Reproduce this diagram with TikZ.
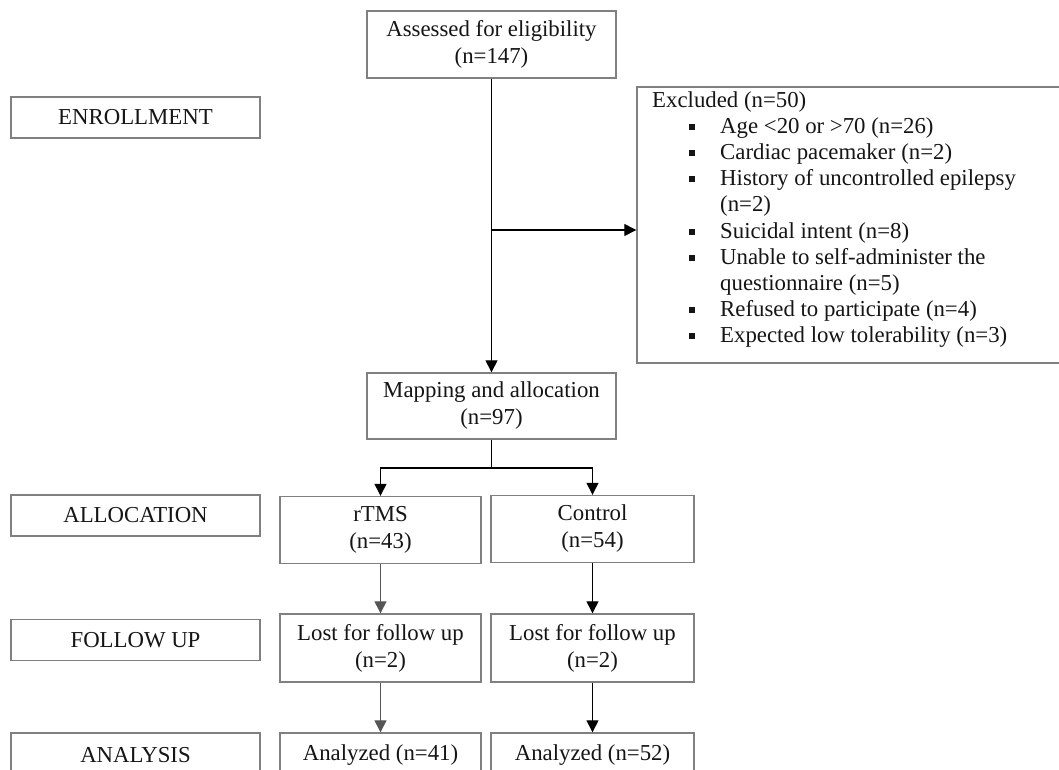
\documentclass[tikz,border=0pt]{standalone}
\usepackage{fontspec}
\setmainfont{Liberation Serif}
\usetikzlibrary{arrows.meta}
\definecolor{boxgray}{HTML}{808080}
\definecolor{txt}{HTML}{151515}
\definecolor{arrgray}{HTML}{555555}
\newcommand{\bul}{\rule[3.4pt]{6pt}{6pt}}
\begin{document}
\begin{tikzpicture}[x=1pt,y=-1pt,
  every node/.style={font=\fontsize{22.8}{27}\selectfont, text=txt},
  fbox/.style={draw=boxgray, line width=1.4pt, align=center, inner sep=0pt},
  lbl/.style={fbox, minimum width=249pt, minimum height=41pt},
  mid/.style={fbox, minimum width=249pt, minimum height=67pt},
  sub/.style={fbox, minimum width=202pt, minimum height=67pt},
  exline/.style={anchor=base west, inner sep=0pt},
  arr/.style={draw=black, line width=1.3pt, -{Triangle[width=12pt,length=12pt]}},
  arrg/.style={draw=arrgray, line width=1.3pt, -{Triangle[width=12pt,length=12pt]}},
  ln/.style={draw=black, line width=1.3pt}]
\useasboundingbox (0,0) rectangle (1059,769);
\clip (0,0) rectangle (1059,769);
\fill[white] (0,0) rectangle (1059,769);

% left stage labels
\node[lbl] (enr) at (135.5,117.5) {ENROLLMENT};
\node[lbl] (alc) at (135.5,515.5) {ALLOCATION};
\node[lbl] (fol) at (135.5,640) {FOLLOW UP};
\node[lbl, minimum height=44pt] (ana) at (135.5,755) {ANALYSIS};

% main flow
\node[mid] (ass) at (491.5,44.5) {Assessed for eligibility\\(n=147)};
\node[mid, minimum height=66pt] (map) at (491.5,406) {Mapping and allocation\\(n=97)};

% excluded box
\node[fbox, minimum width=440pt, minimum height=276pt] (exc) at (857,225) {};
\node[exline] (e0) at (652,107) {Excluded (n=50)};
\node[exline] (e1) at (689,133.2) {\makebox[31pt][l]{\bul}Age <20 or >70 (n=26)};
\node[exline] (e2) at (689,159.4) {\makebox[31pt][l]{\bul}Cardiac pacemaker (n=2)};
\node[exline] (e3) at (689,185.6) {\makebox[31pt][l]{\bul}History of uncontrolled epilepsy};
\node[exline] (e4) at (720,211.8) {(n=2)};
\node[exline] (e5) at (689,238.0) {\makebox[31pt][l]{\bul}Suicidal intent (n=8)};
\node[exline] (e6) at (689,264.2) {\makebox[31pt][l]{\bul}Unable to self-administer the};
\node[exline] (e7) at (720,290.4) {questionnaire (n=5)};
\node[exline] (e8) at (689,316.6) {\makebox[31pt][l]{\bul}Refused to participate (n=4)};
\node[exline] (e9) at (689,342.8) {\makebox[31pt][l]{\bul}Expected low tolerability (n=3)};

% arms
\node[sub, minimum width=201pt] (rt) at (380.5,530) {rTMS\\(n=43)};
\node[sub, minimum width=203pt] (ct) at (592.5,529) {Control\\(n=54)};
\node[sub, minimum width=201pt, minimum height=68pt] (lr) at (380.5,648) {Lost for follow up\\(n=2)};
\node[sub, minimum width=203pt, minimum height=68pt] (lc) at (592.5,648) {Lost for follow up\\(n=2)};
\node[sub, minimum width=201pt, minimum height=44pt] (ar) at (380.5,755) {Analyzed (n=41)};
\node[sub, minimum width=203pt, minimum height=44pt] (ac) at (592.5,755) {Analyzed (n=52)};

% connectors
\coordinate (j1) at (491.5,230);
\coordinate (j2) at (491.5,468);
\draw[arr] (ass.south) -- (map.north);
\draw[arr] (j1) -- (j1 -| exc.west);
\draw[ln] (map.south) -- (j2);
\draw[arr] (j2) -| (rt.north);
\draw[arr] (j2) -| (ct.north);
\draw[arrg] (rt.south) -- (lr.north);
\draw[arr] (ct.south) -- (lc.north);
\draw[arrg] (lr.south) -- (ar.north);
\draw[arr] (lc.south) -- (ac.north);
\end{tikzpicture}
\end{document}
